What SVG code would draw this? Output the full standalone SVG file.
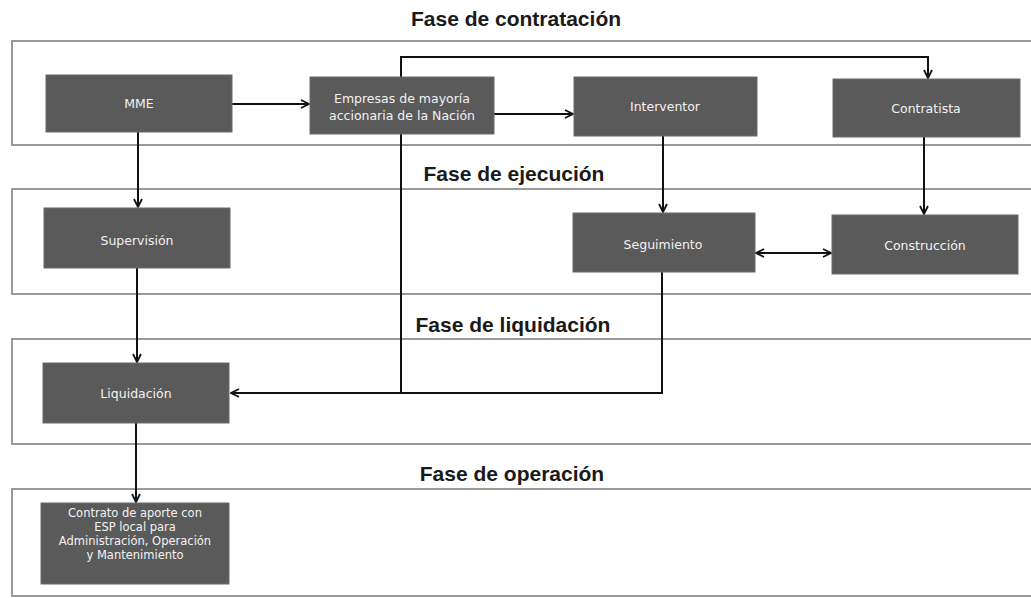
<svg xmlns="http://www.w3.org/2000/svg" width="1031" height="598" viewBox="0 0 1031 598">
<style>
.phase{fill:none;stroke:#9a9a9a;stroke-width:2}
.title{font-family:"Liberation Sans",Arial,sans-serif;font-weight:bold;font-size:21px;fill:#1a1a1a;text-anchor:middle}
.node rect{fill:#5a5a5a;stroke:#6a6a6a;stroke-width:1}
.node text{font-family:"DejaVu Sans",Verdana,sans-serif;font-size:12.5px;fill:#f2f2f2;text-anchor:middle}
.node text.small{font-size:11.5px}
.conn path{fill:none;stroke:#111;stroke-width:2}
</style>
<defs>
<marker id="arr" viewBox="0 0 10 10" refX="9" refY="5" markerWidth="10" markerHeight="10" markerUnits="userSpaceOnUse" orient="auto-start-reverse">
<path d="M1,1 L9,5 L1,9" fill="none" stroke="#111" stroke-width="1.8"/>
</marker>
</defs>
<rect width="1031" height="598" fill="#fff"/>
<g id="phases">
<rect class="phase" x="12" y="41" width="1030" height="104"/>
<rect class="phase" x="12" y="189" width="1030" height="105"/>
<rect class="phase" x="12" y="339" width="1030" height="105"/>
<rect class="phase" x="12" y="489" width="1030" height="107"/>
<text class="title" x="516" y="26">Fase de contratación</text>
<text class="title" x="514" y="181">Fase de ejecución</text>
<text class="title" x="513" y="332">Fase de liquidación</text>
<text class="title" x="512" y="481">Fase de operación</text>
</g>
<g id="connectors" class="conn">
<path d="M232,104 H309" marker-end="url(#arr)"/>
<path d="M494,114 H573" marker-end="url(#arr)"/>
<path d="M401,77 V57 H928 V78" marker-end="url(#arr)"/>
<path d="M401,134 V393 H231" marker-end="url(#arr)"/>
<path d="M662,272 V393 H401"/>
<path d="M138,132 V207" marker-end="url(#arr)"/>
<path d="M137,268 V362" marker-end="url(#arr)"/>
<path d="M136,423 V502" marker-end="url(#arr)"/>
<path d="M663,136 V212" marker-end="url(#arr)"/>
<path d="M924,137 V214" marker-end="url(#arr)"/>
<path d="M756,253 H831" marker-start="url(#arr)" marker-end="url(#arr)"/>
</g>
<g id="mme" class="node"><rect x="46" y="75" width="186" height="57"/><text x="139" y="108">MME</text></g>
<g id="empresas" class="node"><rect x="310" y="77" width="184" height="57"/><text x="402" y="103">Empresas de mayoría</text><text x="402" y="120">accionaria de la Nación</text></g>
<g id="interventor" class="node"><rect x="574" y="77" width="183" height="59"/><text x="665" y="111">Interventor</text></g>
<g id="contratista" class="node"><rect x="833" y="79" width="187" height="58"/><text x="926" y="113">Contratista</text></g>
<g id="supervision" class="node"><rect x="44" y="208" width="186" height="60"/><text x="137" y="245">Supervisión</text></g>
<g id="seguimiento" class="node"><rect x="573" y="213" width="182" height="59"/><text x="663" y="249">Seguimiento</text></g>
<g id="construccion" class="node"><rect x="832" y="215" width="186" height="59"/><text x="925" y="250">Construcción</text></g>
<g id="liquidacion" class="node"><rect x="43" y="363" width="186" height="60"/><text x="136" y="398">Liquidación</text></g>
<g id="contrato" class="node"><rect x="41" y="503" width="188" height="81"/>
<text class="small" x="135" y="517">Contrato de aporte con</text>
<text class="small" x="135" y="531">ESP local para</text>
<text class="small" x="135" y="545">Administración, Operación</text>
<text class="small" x="135" y="559">y Mantenimiento</text></g>
</svg>
